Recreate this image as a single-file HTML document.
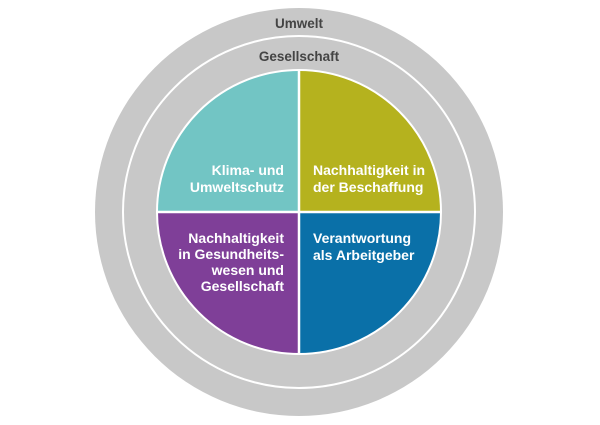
<!DOCTYPE html>
<html><head><meta charset="utf-8"><style>html,body{margin:0;padding:0;background:#fff}</style></head>
<body>
<svg width="600" height="420" viewBox="0 0 600 420" xmlns="http://www.w3.org/2000/svg" font-family="Liberation Sans, DejaVu Sans, sans-serif">
<circle cx="299" cy="212" r="204" fill="#c8c8c8"/>
<circle cx="299" cy="212" r="176" fill="#c8c8c8" stroke="#fff" stroke-width="2"/>
<path d="M299 212 L299 70 A142 142 0 0 0 157 212 Z" fill="#72c5c4"/>
<path d="M299 212 L441 212 A142 142 0 0 0 299 70 Z" fill="#b5b21e"/>
<path d="M299 212 L157 212 A142 142 0 0 0 299 354 Z" fill="#7f3f98"/>
<path d="M299 212 L299 354 A142 142 0 0 0 441 212 Z" fill="#0a70a8"/>
<circle cx="299" cy="212" r="142" fill="none" stroke="#fff" stroke-width="2"/>
<line x1="299" y1="69" x2="299" y2="355" stroke="#fff" stroke-width="2.5"/>
<line x1="156" y1="212" x2="442" y2="212" stroke="#fff" stroke-width="2.5"/>
<g fill="#444" font-size="13.5" font-weight="bold" text-anchor="middle">
<text x="299" y="28">Umwelt</text>
<text x="299" y="61">Gesellschaft</text>
</g>
<g fill="#fff" font-size="14" font-weight="bold">
<g text-anchor="end">
<text x="284" y="175">Klima- und</text>
<text x="284" y="192">Umweltschutz</text>
<text x="284" y="243">Nachhaltigkeit</text>
<text x="284" y="259">in Gesundheits-</text>
<text x="284" y="275">wesen und</text>
<text x="284" y="291">Gesellschaft</text>
</g>
<text x="313" y="175">Nachhaltigkeit in</text>
<text x="313" y="192">der Beschaffung</text>
<text x="313" y="243">Verantwortung</text>
<text x="313" y="260">als Arbeitgeber</text>
</g>
</svg>
</body></html>
